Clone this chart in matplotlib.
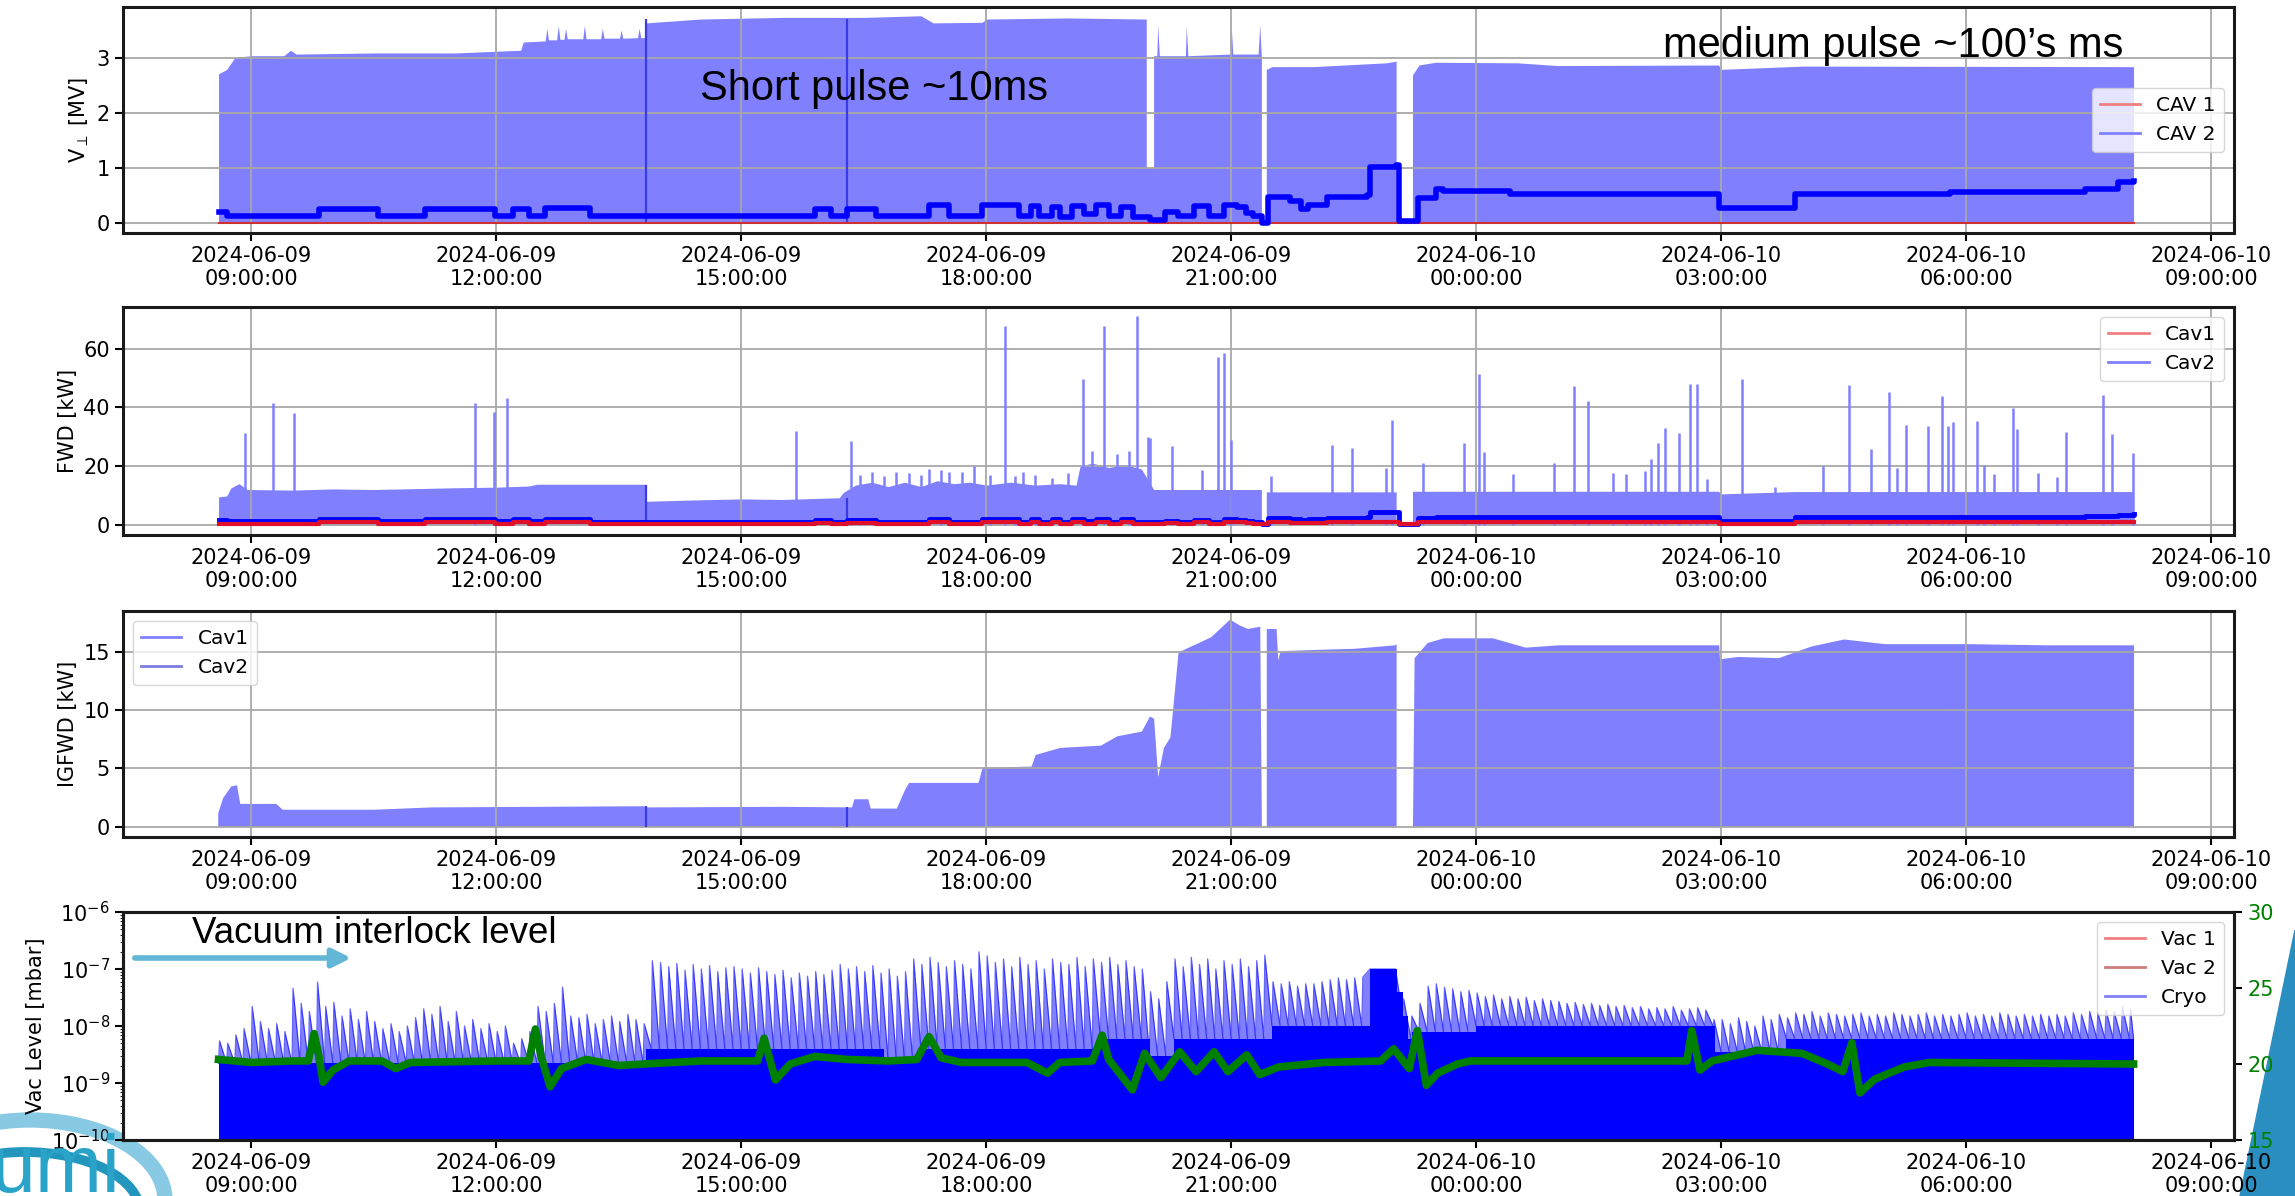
import numpy as np
import matplotlib
matplotlib.use("Agg")
import matplotlib.pyplot as plt
import matplotlib.dates as mdates
from matplotlib.patches import Polygon, Arc, FancyArrowPatch
from matplotlib.lines import Line2D

plt.rcParams['font.family'] = ['DejaVu Sans']
plt.rcParams['font.size'] = 15

# ---------------- data (time in hours since 2024-06-09 00:00) ----------------
# Panel 1 : CAV2 pulse envelope [MV]
volt_env_t = [8.60, 8.60, 8.70, 8.80, 9.00, 9.40, 9.48, 9.55, 10.50, 11.50, 12.30, 12.33, 12.60, 12.62, 12.64,
              12.74, 12.76, 12.78, 12.83, 12.85, 12.87, 13.06, 13.08, 13.10, 13.28, 13.30, 13.32, 13.51, 13.53,
              13.55, 13.73, 13.75, 13.77, 13.83, 13.84, 14.50, 15.50, 16.50, 17.20, 17.35, 17.95, 18.00, 19.00,
              19.96, 19.96, 20.05, 20.05, 20.09, 20.10, 20.12, 20.44, 20.45, 20.47, 20.99, 21.00, 21.02, 21.33,
              21.35, 21.37, 21.37, 21.43, 21.43, 21.50, 22.00, 22.90, 23.02, 23.02, 23.22, 23.22, 23.30, 23.50,
              24.50, 25.00, 26.97, 26.99, 27.50, 28.00, 32.05, 32.05]
volt_env = [0.0, 2.72, 2.80, 3.02, 3.05, 3.05, 3.15, 3.08, 3.10, 3.10, 3.15, 3.30, 3.32, 3.55, 3.34,
            3.34, 3.60, 3.35, 3.35, 3.55, 3.36, 3.36, 3.60, 3.36, 3.36, 3.55, 3.37, 3.37, 3.52,
            3.37, 3.38, 3.55, 3.38, 3.38, 3.65, 3.72, 3.75, 3.75, 3.78, 3.65, 3.66, 3.72, 3.74,
            3.72, 1.00, 1.00, 3.05, 3.05, 3.62, 3.05, 3.05, 3.60, 3.05, 3.08, 3.60, 3.08, 3.08,
            3.62, 3.00, 0.0, 0.0, 2.80, 2.85, 2.85, 2.92, 2.95, 0.0, 0.0, 2.70, 2.88, 2.93,
            2.92, 2.87, 2.88, 2.80, 2.83, 2.86, 2.85, 0.0]

# step series shared time base (mean levels)
mean_t = [8.60, 8.70, 9.83, 10.55, 11.13, 11.98, 12.20, 12.40, 12.60, 13.15, 15.90, 16.10, 16.30, 16.65,
          17.30, 17.55, 17.95, 18.40, 18.55, 18.65, 18.80, 18.90, 19.05, 19.20, 19.35, 19.50, 19.65, 19.80,
          20.01, 20.19, 20.35, 20.55, 20.73, 20.91, 21.07, 21.18, 21.27, 21.38, 21.45, 21.72, 21.85, 21.94,
          22.17, 22.66, 22.70, 23.02, 23.06, 23.24, 23.29, 23.51, 23.60, 24.23, 24.41, 26.97, 27.91, 29.80,
          31.46, 31.86, 32.05]
volt_cav2_mean = [0.20, 0.12, 0.25, 0.12, 0.25, 0.12, 0.25, 0.12, 0.26, 0.12, 0.25, 0.12, 0.25, 0.12,
                  0.32, 0.12, 0.32, 0.12, 0.30, 0.12, 0.28, 0.10, 0.30, 0.15, 0.32, 0.12, 0.28, 0.10,
                  0.05, 0.20, 0.12, 0.30, 0.12, 0.33, 0.28, 0.18, 0.12, 0.00, 0.46, 0.40, 0.25, 0.33,
                  0.47, 0.50, 1.02, 1.05, 0.03, 0.03, 0.45, 0.62, 0.58, 0.57, 0.52, 0.26, 0.52, 0.56,
                  0.62, 0.74, 0.76]
fwd_cav2_mean = [1.5, 1.2, 1.8, 1.2, 1.8, 1.2, 1.8, 1.2, 1.8, 1.1, 1.6, 1.1, 1.6, 1.1,
                 1.9, 1.1, 1.9, 1.1, 1.8, 1.1, 1.8, 1.0, 1.9, 1.2, 2.0, 1.1, 1.8, 1.0,
                 0.8, 1.4, 1.0, 1.7, 1.0, 1.8, 1.6, 1.3, 1.0, 0.3, 2.2, 2.0, 1.6, 1.8,
                 2.3, 2.5, 4.2, 4.3, 0.3, 0.3, 2.2, 2.8, 2.7, 2.6, 2.5, 1.2, 2.5, 2.7,
                 3.0, 3.4, 3.5]
fwd_cav1 = [0.4, 0.3, 0.9, 0.3, 0.9, 0.3, 0.9, 0.3, 0.9, 0.3, 0.7, 0.3, 0.7, 0.3,
            1.0, 0.3, 1.0, 0.3, 0.9, 0.3, 0.8, 0.3, 0.9, 0.4, 1.0, 0.3, 0.8, 0.3,
            0.2, 0.6, 0.3, 0.8, 0.3, 0.9, 0.8, 0.5, 0.3, 0.1, 0.8, 0.7, 0.5, 0.6,
            0.8, 0.8, 1.0, 1.0, 0.1, 0.1, 0.8, 0.9, 0.9, 0.9, 0.8, 0.4, 0.8, 0.8,
            0.9, 0.9, 0.9]
cav1_volt_t = [8.60, 32.05]
cav1_volt = [0.0, 0.0]

# marker lines visible in panels 1-3
event_t = [13.84, 16.30]
event_volt = [3.72, 3.72]
event_fwd = [13.5, 9.0]
event_ig = [1.75, 1.7]

# Panel 2 : FWD envelope [kW] and spikes
fwd_env_t = [8.60, 8.60, 8.70, 8.75, 8.85, 8.95, 9.50, 10.00, 10.50, 11.00, 11.50, 12.00, 12.40, 12.50,
             13.83, 13.84, 14.50, 15.00, 15.50, 16.20, 16.25, 16.40, 16.60, 16.80, 17.00, 17.20, 17.40,
             17.60, 17.80, 18.00, 18.30, 18.60, 18.90, 19.10, 19.15, 19.30, 19.50, 19.70, 19.90, 20.01,
             20.05, 21.37, 21.37, 21.43, 21.43, 23.02, 23.02, 23.22, 23.22, 26.97, 26.99, 27.90, 32.05, 32.05]
fwd_env = [0.0, 9.5, 9.8, 12.5, 14.0, 12.0, 11.8, 12.2, 12.0, 12.3, 12.6, 12.8, 13.2, 13.8,
           13.8, 8.0, 8.5, 8.8, 8.6, 9.2, 11.0, 13.5, 14.5, 13.0, 14.5, 13.0, 15.0,
           14.0, 14.5, 13.5, 14.5, 13.5, 14.0, 13.5, 20.0, 21.0, 19.5, 20.5, 19.0, 14.0,
           12.0, 12.0, 0.0, 0.0, 11.2, 11.2, 0.0, 0.0, 11.4, 11.4, 10.5, 11.3, 11.3, 0.0]
fwd_spike_t = [8.92, 9.27, 9.52, 11.74, 11.97, 12.13, 15.67, 16.35, 16.60, 17.20,
               17.45, 17.70, 17.85, 18.23, 18.45, 19.19, 19.44, 19.85, 19.98, 20.01,
               20.28, 20.64, 20.84, 20.91, 21.00, 21.49, 22.24, 22.48, 22.90, 22.97,
               23.35, 23.85, 24.03, 24.10, 24.45, 24.95, 25.20, 25.37, 25.67, 25.83,
               26.07, 26.14, 26.23, 26.31, 26.48, 26.62, 26.71, 26.83, 27.25, 27.66,
               28.25, 28.57, 28.83, 29.06, 29.15, 29.26, 29.53, 29.71, 29.78, 29.84,
               30.13, 30.22, 30.34, 30.57, 30.62, 30.88, 31.11, 31.22, 31.68, 31.79,
               32.04, 16.45, 16.75, 16.90, 17.05, 17.30, 17.55, 18.05, 18.35, 18.60,
               18.80, 19.00, 19.30, 19.60, 19.75]
fwd_spike_h = [31.2, 41.4, 38.2, 41.5, 38.4, 43.2, 32.0, 28.4, 18.0, 17.0,
               18.5, 18.0, 20.0, 67.8, 18.0, 49.7, 67.6, 71.0, 30.0, 29.4,
               26.9, 18.8, 57.0, 58.5, 28.9, 16.7, 27.1, 26.0, 19.2, 35.7,
               21.0, 28.0, 51.2, 24.9, 17.3, 21.2, 47.2, 42.1, 17.6, 17.3,
               18.4, 22.4, 27.8, 32.8, 31.2, 47.8, 47.8, 15.6, 49.5, 12.8,
               20.1, 47.5, 25.8, 45.4, 19.5, 33.9, 33.7, 43.8, 33.7, 35.0,
               35.4, 20.3, 17.3, 39.9, 32.5, 17.6, 16.2, 31.6, 44.1, 30.8,
               24.4, 17.0, 16.5, 18.0, 17.5, 19.0, 18.0, 17.0, 16.5, 17.0,
               16.0, 17.5, 25.0, 24.0, 25.0]

# Panel 3 : IGFWD envelope [kW]
ig_env_t = [8.59, 8.59, 8.65, 8.75, 8.82, 8.86, 9.30, 9.38, 10.50, 11.20,
            12.50, 13.80, 13.84, 15.50, 16.35, 16.38, 16.55, 16.58, 16.90, 17.00,
            17.05, 17.90, 17.95, 18.55, 18.60, 18.90, 19.40, 19.60, 19.90, 20.00,
            20.05, 20.10, 20.17, 20.25, 20.35, 20.60, 20.75, 20.98, 21.10, 21.20,
            21.35, 21.37, 21.43, 21.43, 21.55, 21.57, 21.60, 22.00, 22.50, 23.00,
            23.02, 23.02, 23.22, 23.24, 23.40, 23.60, 24.20, 24.60, 25.00, 26.97,
            26.98, 27.20, 27.70, 28.10, 28.50, 29.00, 30.00, 31.00, 32.05, 32.05]
ig_env = [0.0, 1.2, 2.5, 3.5, 3.6, 2.0, 2.0, 1.5, 1.5, 1.7,
          1.75, 1.8, 1.7, 1.75, 1.7, 2.4, 2.4, 1.6, 1.6, 3.2,
          3.8, 3.8, 5.1, 5.2, 6.2, 6.8, 7.0, 7.8, 8.2, 9.5,
          9.3, 4.3, 6.8, 7.7, 15.0, 15.8, 16.3, 17.8, 17.3, 17.0,
          17.2, 0.0, 0.0, 17.0, 17.0, 14.3, 15.1, 15.2, 15.3, 15.6,
          15.7, 0.0, 0.0, 14.5, 15.8, 16.2, 16.2, 15.4, 15.6, 15.6,
          14.4, 14.6, 14.5, 15.5, 16.1, 15.7, 15.7, 15.6, 15.6, 0.0]

# Panel 4 : vacuum (units of 1e-9 mbar), peaks sampled every 0.1 h from 8.6 h
vac_t0 = 8.6
vac_dt = 0.1
vac_peak = [5.5, 5.0, 7.0, 9.0,
            22, 12, 9, 11, 8, 46, 25, 18, 59, 22,
            26, 15, 20, 13, 18, 12, 9, 11, 8, 10,
            14, 20, 16, 22, 12, 18, 10, 13, 9, 11,
            8, 10, 5, 6, 8, 22, 18, 25, 48, 15,
            14, 16, 11, 13, 15, 12, 16, 13, 11, 140,
            130, 110, 125, 95, 120, 100, 115, 90, 105, 110,
            100, 85, 105, 90, 80, 95, 70, 85, 75, 90,
            80, 95, 120, 100, 110, 90, 115, 85, 100, 75,
            90, 150, 120, 160, 130, 110, 140, 120, 100, 200,
            170, 130, 150, 110, 160, 120, 140, 100, 150, 130,
            120, 160, 110, 150, 130, 160, 120, 140, 110, 100,
            40, 30, 60, 150, 110, 160, 120, 150, 100, 140,
            120, 150, 110, 140, 175, 60, 55, 60, 50, 55,
            55, 60, 65, 70, 65, 70, 72, 100, 100, 100,
            100, 30, 15, 25, 50, 55, 48, 45, 40, 42,
            38, 33, 35, 30, 33, 30, 32, 28, 30, 28,
            27, 25, 26, 24, 25, 23, 24, 22, 23, 21,
            22, 20, 21, 20, 22, 19, 20, 21, 19, 13,
            13, 11, 14, 12, 10, 15, 13, 16, 14, 17,
            16, 18, 15, 17, 16, 15, 16, 17, 15, 16,
            15, 17, 16, 15, 16, 17, 15, 16, 15, 16,
            17, 15, 16, 15, 17, 16, 15, 16, 15, 16,
            15, 16, 15, 17, 16, 18, 17, 19, 18, 22,
            20]
vac_solid_t = [8.60, 13.84, 16.75, 17.20, 19.40, 20.00, 20.30, 21.50, 22.70, 23.03, 23.10, 23.17, 23.22,
               24.00, 26.93, 27.80, 32.05]
vac_solid = [2.2, 4.0, 2.5, 4.0, 6.0, 3.0, 6.0, 10.0, 100.0, 40.0, 15.0, 6.0, 8.0,
             10.0, 3.5, 6.0, 6.0]

# Cryo temperature (right axis)
cryo_t = [8.60, 9.00, 9.50, 9.70, 9.77, 9.83, 9.88, 10.00, 10.20, 10.60,
          10.77, 10.95, 12.00, 12.40, 12.48, 12.55, 12.66, 12.80, 13.10, 13.50,
          13.80, 14.50, 15.20, 15.28, 15.35, 15.42, 15.60, 15.90, 16.30, 16.80,
          17.15, 17.30, 17.45, 17.70, 18.50, 18.75, 18.90, 19.30, 19.42, 19.50,
          19.79, 19.94, 20.14, 20.37, 20.57, 20.79, 20.96, 21.19, 21.35, 21.58,
          22.13, 22.83, 22.99, 23.18, 23.28, 23.39, 23.53, 23.77, 23.93, 26.58,
          26.64, 26.74, 26.89, 27.44, 27.99, 28.30, 28.49, 28.60, 28.70, 28.88,
          29.24, 29.55, 32.05]
cryo_temp = [20.3, 20.1, 20.2, 20.2, 22.0, 20.5, 18.8, 19.6, 20.2, 20.2,
             19.7, 20.1, 20.2, 20.2, 22.3, 20.5, 18.5, 19.7, 20.3, 19.9,
             20.0, 20.2, 20.2, 21.7, 20.3, 18.95, 20.0, 20.5, 20.3, 20.2,
             20.3, 21.8, 20.4, 20.1, 20.1, 19.4, 20.1, 20.2, 21.9, 20.3,
             18.3, 20.7, 19.1, 20.8, 19.5, 20.8, 19.5, 20.6, 19.3, 19.8,
             20.1, 20.2, 21.0, 19.7, 22.2, 18.6, 19.4, 20.0, 20.2, 20.2,
             22.2, 19.6, 20.2, 20.9, 20.7, 20.0, 19.5, 21.4, 18.1, 19.0,
             19.8, 20.1, 20.0]

# ---------------- drawing ----------------
D0 = mdates.date2num(np.datetime64('2024-06-09T00:00:00'))


def T(h):
    return D0 + np.asarray(h, dtype=float) / 24.0


W, H = 2295, 1196
fig = plt.figure(figsize=(W / 100, H / 100), dpi=100)


def rect(top, bottom):
    return [123 / W, 1 - bottom / H, (2234 - 123) / W, (bottom - top) / H]


ax1 = fig.add_axes(rect(7, 233))
ax2 = fig.add_axes(rect(307, 535))
ax3 = fig.add_axes(rect(611, 837))
ax4 = fig.add_axes(rect(912, 1140))

LIGHT = '#8080ff'
RED_L = '#f08080'


def style(ax, grid=True):
    ax.set_xlim(T(7.43), T(33.28))
    ax.xaxis.set_major_locator(mdates.HourLocator(byhour=range(0, 24, 3)))
    ax.xaxis.set_major_formatter(mdates.DateFormatter('%Y-%m-%d\n%H:%M:%S'))
    for s in ax.spines.values():
        s.set_linewidth(2.2)
        s.set_color('#1a1a1a')
    ax.tick_params(labelsize=15, length=6, width=1.5)
    if grid:
        ax.grid(True, color='#a8a8a8', lw=1.3)


# Panel 1
ax1.fill_between(T(volt_env_t), 0, volt_env, color=LIGHT, lw=0)
ax1.vlines(T(event_t), 0, event_volt, color='#3a3ae6', lw=1.6)
ax1.plot(T(cav1_volt_t), cav1_volt, color='#d03030', lw=1.5)
ax1.plot(T(mean_t), volt_cav2_mean, drawstyle='steps-post', color='blue', lw=4)
style(ax1)
ax1.set_ylim(-0.19, 3.94)
ax1.set_yticks([0, 1, 2, 3])
ax1.set_ylabel(r'V$_{\perp}$ [MV]', fontsize=15)
ax1.legend(handles=[Line2D([], [], color=RED_L, lw=2, label='CAV 1'),
                    Line2D([], [], color=LIGHT, lw=2, label='CAV 2')],
           loc='center right', fontsize=14.5)

# Panel 2
ax2.fill_between(T(fwd_env_t), 0, fwd_env, color=LIGHT, lw=0)
ax2.vlines(T(fwd_spike_t), 0, fwd_spike_h, color=LIGHT, lw=1.8)
ax2.vlines(T(event_t), 0, event_fwd, color='#3a3ae6', lw=1.6)
ax2.plot(T(mean_t), fwd_cav2_mean, drawstyle='steps-post', color='blue', lw=3.5)
ax2.plot(T(mean_t), fwd_cav1, drawstyle='steps-post', color='#e0102a', lw=3)
style(ax2)
ax2.set_ylim(-3.5, 74.2)
ax2.set_yticks([0, 20, 40, 60])
ax2.set_ylabel('FWD [kW]', fontsize=15)
ax2.legend(handles=[Line2D([], [], color=RED_L, lw=2, label='Cav1'),
                    Line2D([], [], color=LIGHT, lw=2, label='Cav2')],
           loc='upper right', fontsize=14.5)

# Panel 3
ax3.fill_between(T(ig_env_t), 0, ig_env, color=LIGHT, lw=0)
ax3.vlines(T(event_t), 0, event_ig, color='#3a3ae6', lw=1.6)
style(ax3)
ax3.set_ylim(-0.88, 18.5)
ax3.set_yticks([0, 5, 10, 15])
ax3.set_ylabel('IGFWD [kW]', fontsize=15)
ax3.legend(handles=[Line2D([], [], color=LIGHT, lw=2, label='Cav1'),
                    Line2D([], [], color='#7c7cdc', lw=2, label='Cav2')],
           loc='upper left', fontsize=14.5)

# Panel 4 : pumping spikes drawn as a sawtooth from the baseline level up to each peak
ax4.set_yscale('log')
vt = vac_t0 + vac_dt * np.arange(len(vac_peak))
solid_arr = np.asarray(vac_solid, dtype=float)
base = solid_arr[np.searchsorted(vac_solid_t, vt, side='right') - 1] * 1e-9
saw_t = np.empty(2 * len(vt))
saw_v = np.empty(2 * len(vt))
saw_t[0::2] = vt
saw_t[1::2] = vt + 0.012
saw_v[0::2] = base
saw_v[1::2] = np.asarray(vac_peak, dtype=float) * 1e-9
saw_t = np.append(saw_t, vac_solid_t[-1])
saw_v = np.append(saw_v, base[-1])
ax4.fill_between(T(saw_t), 1e-10, saw_v, color='blue', alpha=0.5, lw=0)
ax4.plot(T(saw_t), saw_v, color='blue', lw=0.9, alpha=0.6)
ax4.fill_between(T(vac_solid_t), 1e-10, solid_arr * 1e-9, step='post', color='blue', lw=0)
style(ax4, grid=False)
ax4.set_ylim(1e-10, 1e-6)
ax4.set_ylabel('Vac Level [mbar]', fontsize=15)

ax4r = ax4.twinx()
ax4r.plot(T(cryo_t), cryo_temp, color='green', lw=5.5)
ax4r.set_ylim(15, 30)
ax4r.set_yticks([15, 20, 25, 30])
ax4r.tick_params(labelsize=15, length=6, width=1.5, labelcolor='green')
for s in ax4r.spines.values():
    s.set_linewidth(2.2)
    s.set_color('#1a1a1a')
ax4r.legend(handles=[Line2D([], [], color=RED_L, lw=2, label='Vac 1'),
                     Line2D([], [], color='#d07c7c', lw=2, label='Vac 2'),
                     Line2D([], [], color=LIGHT, lw=2, label='Cryo')],
            loc='upper right', fontsize=14.5)

# annotations
fig.text(700 / W, 1 - 100 / H, 'Short pulse ~10ms', fontsize=30, family='Liberation Sans', va='baseline')
fig.text(1663 / W, 1 - 57 / H, 'medium pulse ~100\u2019s ms', fontsize=30, family='Liberation Sans',
         va='baseline')
fig.text(192 / W, 1 - 943 / H, 'Vacuum interlock level', fontsize=26.5, family='Liberation Sans',
         va='baseline')
arrow = FancyArrowPatch((1.32, (H - 958) / 100), (3.54, (H - 958) / 100), transform=fig.dpi_scale_trans,
                        arrowstyle='-|>,head_length=0.7,head_width=0.35', mutation_scale=16, lw=4,
                        color='#62b6d6', zorder=5)
fig.add_artist(arrow)

# slide decorations (logo swoosh and right edge band)
fig.add_artist(Arc((0.30, (H - 1200) / 100), 2.7, 1.6, theta1=0, theta2=180, transform=fig.dpi_scale_trans,
                   lw=11, color='#88c9e4', zorder=-1))
fig.add_artist(Arc((0.25, (H - 1212) / 100), 2.3, 1.2, theta1=0, theta2=180, transform=fig.dpi_scale_trans,
                   lw=7, color='#2296bd', zorder=-1))
fig.text(-0.004, 4 / H, 'umi', fontsize=58, color='#2aa3c9', family='Liberation Sans', va='baseline')
fig.add_artist(Polygon([(22.95, (H - 930) / 100), (22.62, (H - 1090) / 100), (22.40, 0), (22.95, 0)],
                       closed=True, transform=fig.dpi_scale_trans, color='#2a8fc0', zorder=-1))

fig.savefig('out.png', dpi=100)
